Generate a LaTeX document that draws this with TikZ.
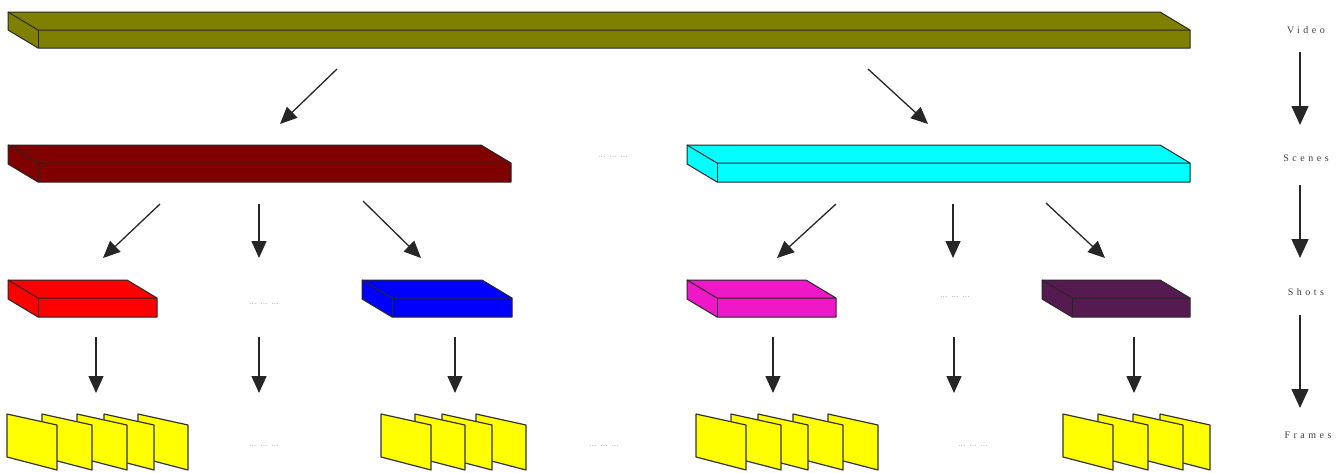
\documentclass[tikz,border=0pt]{standalone}
\usepackage{fontspec}
\newfontfamily\labfont[LetterSpace=35]{Liberation Serif}
\usetikzlibrary{arrows.meta}
\definecolor{vidc}{RGB}{128,128,0}
\definecolor{scA}{RGB}{128,0,0}
\definecolor{scB}{RGB}{0,255,255}
\definecolor{shA}{RGB}{255,0,0}
\definecolor{shB}{RGB}{0,0,255}
\definecolor{shC}{RGB}{238,24,200}
\definecolor{shD}{RGB}{85,26,80}
\definecolor{frc}{RGB}{255,255,0}
\newcommand\slab[6]{%
  \filldraw[slabstyle, fill=#6] (#2-30,#4-18) -- (#3-30,#4-18) -- (#3,#4) -- (#3,#5) -- (#2,#5) -- (#2-30,#5-18) -- cycle;
  \draw[slabstyle] (#2-30,#4-18) -- (#2,#4) -- (#3,#4);
  \draw[slabstyle] (#2,#4) -- (#2,#5);
  \coordinate (#1) at ({(#2+#3)/2-15},{#5});}
\newcommand\frm[1]{%
  \filldraw[framestyle] (#1,414) -- (#1+50,425) -- (#1+50,470) -- (#1,457) -- cycle;}
\tikzset{
  slabstyle/.style={draw=black!85, line width=1pt, line join=round},
  framestyle/.style={fill=frc, draw=black!80, line width=1.2pt, line join=round},
  arr/.style={draw=black!85, line width=1.3pt, -{Triangle[length=17pt,width=15pt]}},
  bigarr/.style={draw=black!85, line width=1.5pt, -{Triangle[length=19pt,width=17pt]}},
  lab/.style={font=\labfont\fontsize{10}{11}\selectfont, text=black!75, inner sep=0},
  dots/.style={font=\fontsize{8.5}{9}\selectfont, text=black!60, inner sep=0},
}
\begin{document}
\begin{tikzpicture}[x=1pt,y=-1pt]
\useasboundingbox (0,0) rectangle (1337,472);
% Video
\slab{video}{38}{1190}{30}{48}{vidc}
% Scenes
\slab{sceneA}{38}{511}{163}{182}{scA}
\slab{sceneB}{717}{1190}{163}{182}{scB}
\node[dots] (d1) at (613,157) {... ... ...};
% Shots
\slab{shotA}{38}{157}{298}{317}{shA}
\slab{shotB}{392}{512}{298}{317}{shB}
\slab{shotC}{717}{836}{298}{317}{shC}
\slab{shotD}{1072}{1190}{298}{317}{shD}
\node[dots] (d2) at (264,304) {... ... ...};
\node[dots] (d3) at (955,297) {... ... ...};
% Frames
\foreach \x in {138,104,77,42,7} {\frm{\x}}
\foreach \x in {476,442,415,381} {\frm{\x}}
\foreach \x in {828,793,758,731,696} {\frm{\x}}
\foreach \x in {1160,1133,1098,1063} {\frm{\x}}
\node[dots] (d4) at (264,446) {... ... ...};
\node[dots] (d5) at (604,446) {... ... ...};
\node[dots] (d6) at (973,446) {... ... ...};
% arrow end points
\coordinate (a1s) at (337,69);  \coordinate (a1e) at (280,124);
\coordinate (a2s) at (868,69);  \coordinate (a2e) at (928,124);
\coordinate (b1s) at (160,204); \coordinate (b1e) at (103,258);
\coordinate (b2s) at (259,204); \coordinate (b2e) at (259,258);
\coordinate (b3s) at (363,201); \coordinate (b3e) at (421,258);
\coordinate (b4s) at (836,204); \coordinate (b4e) at (777,258);
\coordinate (b5s) at (953,204); \coordinate (b5e) at (953,258);
\coordinate (b6s) at (1046,203);\coordinate (b6e) at (1105,258);
\draw[arr] (a1s) -- (a1e);
\draw[arr] (a2s) -- (a2e);
\draw[arr] (b1s) -- (b1e);
\draw[arr] (b2s) -- (b2e);
\draw[arr] (b3s) -- (b3e);
\draw[arr] (b4s) -- (b4e);
\draw[arr] (b5s) -- (b5e);
\draw[arr] (b6s) -- (b6e);
\foreach \x/\n in {96/c1,259/c2,455/c3,773/c4,954/c5,1134/c6} {
  \coordinate (\n s) at (\x,337); \coordinate (\n e) at (\x,393);
  \draw[arr] (\n s) -- (\n e);}
% Right-hand legend
\node[lab] (lv) at (1306,30) {Video};
\node[lab] (ls) at (1306,158) {Scenes};
\node[lab] (lh) at (1306,292) {Shots};
\node[lab] (lf) at (1308,435) {Frames};
\coordinate (r1s) at (1300,52);  \coordinate (r1e) at (1300,125);
\coordinate (r2s) at (1300,185); \coordinate (r2e) at (1300,258);
\coordinate (r3s) at (1300,315); \coordinate (r3e) at (1300,408);
\draw[bigarr] (r1s) -- (r1e);
\draw[bigarr] (r2s) -- (r2e);
\draw[bigarr] (r3s) -- (r3e);
\end{tikzpicture}
\end{document}
